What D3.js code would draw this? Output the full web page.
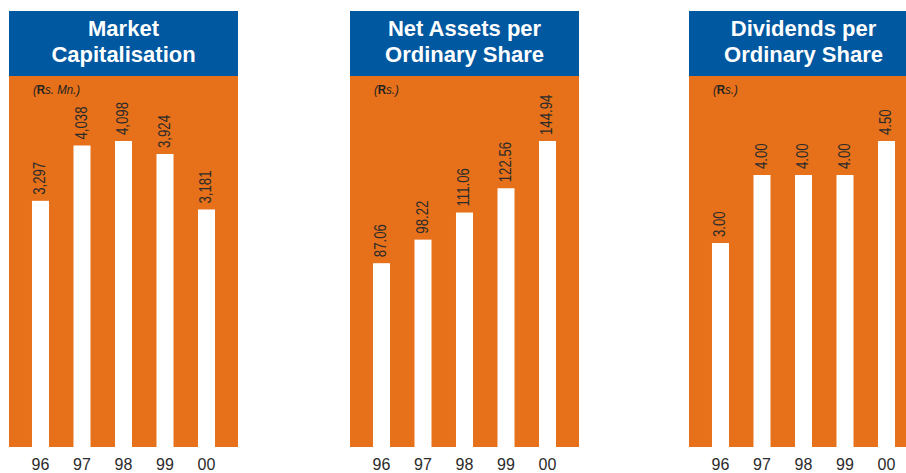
<!DOCTYPE html>
<html>
<head>
<meta charset="utf-8">
<script src="https://cdn.jsdelivr.net/npm/d3@7"></script>
<style>
  body { margin: 0; background: #fff; }
  svg { display: block; }
</style>
</head>
<body>
<script>
// data
var years = ["96", "97", "98", "99", "00"];
var marketCap = [3297, 4038, 4098, 3924, 3181];
var netAssets = [87.06, 98.22, 111.06, 122.56, 144.94];
var dividends = [3.00, 4.00, 4.00, 4.00, 4.50];

var titles = [
    ["Market", "Capitalisation"],
    ["Net Assets per", "Ordinary Share"],
    ["Dividends per", "Ordinary Share"]
];
var units = ["s. Mn.)", "s.)", "s.)"];
var formats = [",", ".2f", ".2f"];
var series = [marketCap, netAssets, dividends];

var width = 906, height = 473;
var blue = "#0058a0", orange = "#e6711a";
var sans = "'Liberation Sans', Arial, sans-serif";

var svg = d3.select("body").append("svg")
    .attr("width", width)
    .attr("height", height);

// panel geometry
var panelX = [9, 350, 689];
var panelW = 229;
var headTop = 11, plotTop = 76, plotBottom = 447;

series.forEach(function (values, i) {
    var g = svg.append("g").attr("transform", "translate(" + panelX[i] + ",0)");

    var x = d3.scaleBand()
        .domain(years)
        .range([0, panelW])
        .paddingInner(0.59)
        .paddingOuter(0.554);

    // tallest bar reaches about 82% of the orange area
    var y = d3.scaleLinear()
        .domain([0, d3.max(values) * 371 / 306])
        .range([plotBottom, plotTop]);

    g.append("rect")
        .attr("x", 0).attr("y", headTop)
        .attr("width", panelW).attr("height", plotTop - headTop)
        .style("fill", blue);

    g.append("rect")
        .attr("x", 0).attr("y", plotTop)
        .attr("width", panelW).attr("height", plotBottom - plotTop)
        .style("fill", orange);

    g.selectAll(".title")
        .data(titles[i])
        .enter().append("text")
        .attr("class", "title")
        .attr("x", panelW / 2)
        .attr("y", function (d, k) { return 36 + k * 26; })
        .attr("text-anchor", "middle")
        .style("font-family", sans)
        .style("font-weight", "bold")
        .style("font-size", "22px")
        .style("fill", "#fff")
        .text(function (d) { return d; });

    // unit label, narrow italic; the R is heavier like the rupee mark
    var u = g.append("text")
        .attr("transform", "translate(" + (x(years[0]) + 1) + ",94) scale(0.85,1)")
        .style("font-family", sans)
        .style("font-style", "italic")
        .style("font-size", "13.5px")
        .style("fill", "#222");
    u.append("tspan").text("(");
    u.append("tspan").style("font-weight", "bold").style("font-style", "normal").text("R");
    u.append("tspan").text(units[i]);

    g.selectAll(".bar")
        .data(values)
        .enter().append("rect")
        .attr("class", "bar")
        .attr("x", function (d, k) { return x(years[k]); })
        .attr("y", function (d) { return y(d); })
        .attr("width", x.bandwidth())
        .attr("height", function (d) { return plotBottom - y(d); })
        .style("fill", "#fff");

    // value labels, rotated and squeezed along their length
    var fmt = d3.format(formats[i]);
    g.selectAll(".val")
        .data(values)
        .enter().append("text")
        .attr("class", "val")
        .attr("transform", function (d, k) {
            return "translate(" + (x(years[k]) + x.bandwidth() / 2 - 1) + "," + (y(d) - 6) + ") rotate(-90) scale(0.8,1)";
        })
        .attr("dy", "0.36em")
        .style("font-family", sans)
        .style("font-size", "16.5px")
        .style("fill", "#2b2b2b")
        .text(function (d) { return fmt(d); });

    var axis = d3.axisBottom(x).tickSize(0).tickPadding(0);
    var ax = g.append("g")
        .attr("transform", "translate(0," + plotBottom + ")")
        .call(axis);
    ax.select(".domain").remove();
    ax.selectAll("text")
        .attr("dy", 0)
        .attr("y", 23)
        .style("font-family", sans)
        .style("font-size", "16px")
        .style("fill", "#2b2b2b");
});
</script>
</body>
</html>
